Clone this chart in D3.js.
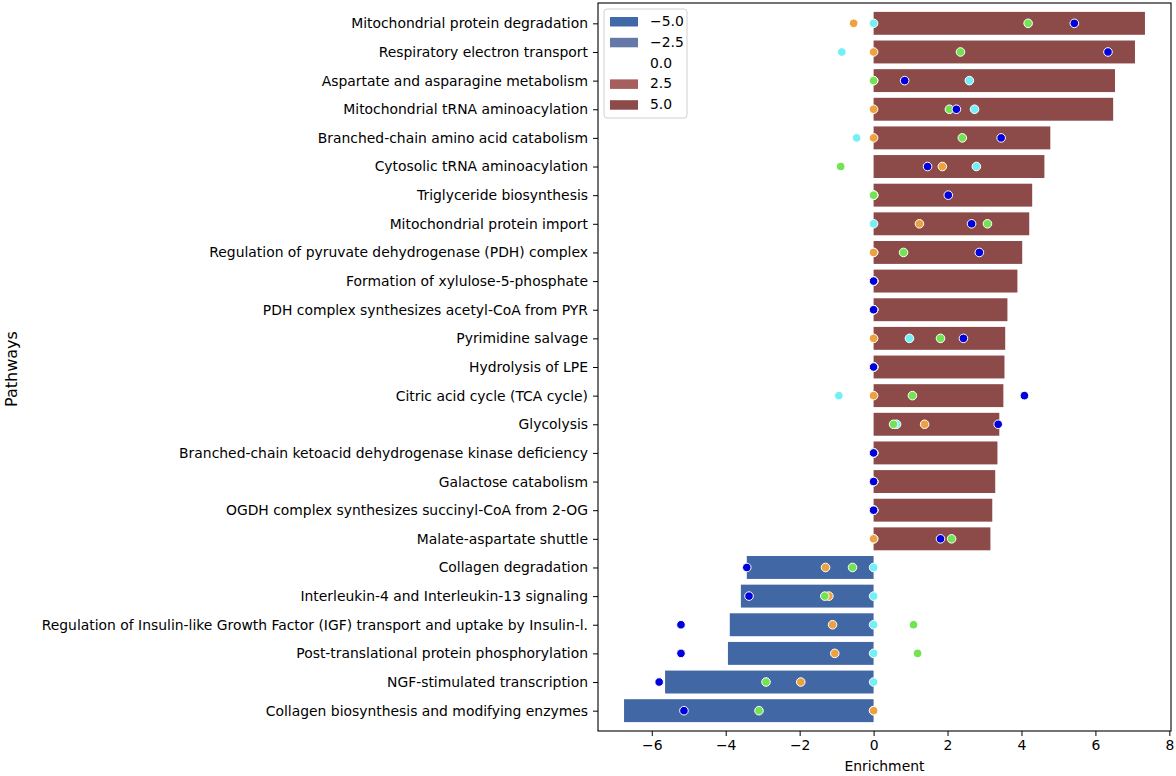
<!DOCTYPE html>
<html>
<head>
<meta charset="utf-8">
<script src="https://cdn.jsdelivr.net/npm/d3@7"></script>
<style>
  body { margin: 0; background: #fff; }
  svg { display: block; font-family: "DejaVu Sans", sans-serif; }
</style>
</head>
<body>
<svg id="chart" width="1176" height="776"></svg>
<script>
const pathways = [
  "Mitochondrial protein degradation",
  "Respiratory electron transport",
  "Aspartate and asparagine metabolism",
  "Mitochondrial tRNA aminoacylation",
  "Branched-chain amino acid catabolism",
  "Cytosolic tRNA aminoacylation",
  "Triglyceride biosynthesis",
  "Mitochondrial protein import",
  "Regulation of pyruvate dehydrogenase (PDH) complex",
  "Formation of xylulose-5-phosphate",
  "PDH complex synthesizes acetyl-CoA from PYR",
  "Pyrimidine salvage",
  "Hydrolysis of LPE",
  "Citric acid cycle (TCA cycle)",
  "Glycolysis",
  "Branched-chain ketoacid dehydrogenase kinase deficiency",
  "Galactose catabolism",
  "OGDH complex synthesizes succinyl-CoA from 2-OG",
  "Malate-aspartate shuttle",
  "Collagen degradation",
  "Interleukin-4 and Interleukin-13 signaling",
  "Regulation of Insulin-like Growth Factor (IGF) transport and uptake by Insulin-l.",
  "Post-translational protein phosphorylation",
  "NGF-stimulated transcription",
  "Collagen biosynthesis and modifying enzymes"
];
const enrichment = [7.34, 7.07, 6.53, 6.48, 4.78, 4.62, 4.29, 4.21, 4.02, 3.89, 3.62, 3.56, 3.54, 3.51, 3.40, 3.35, 3.29, 3.21, 3.16, -3.43, -3.59, -3.89, -3.94, -5.64, -6.75];
// dot series, drawing order: cyan, orange, green, blue
const cyanVals   = [0, -0.86, 2.59, 2.73, -0.46, 2.78, 0, 0, 0, 0, 0, 0.97, 0, -0.94, 0.62, 0, 0, 0, 0, 0, 0, 0, 0, 0, 0];
const orangeVals = [-0.54, 0, 0, 0, 0, 1.86, 0, 1.24, 0, 0, 0, 0, 0, 0, 1.38, 0, 0, 0, 0, -1.30, -1.21, -1.11, -1.05, -1.97, 0];
const greenVals  = [4.18, 2.35, 0, 2.05, 2.40, -0.89, 0, 3.08, 0.81, 0, 0, 1.81, 0, 1.05, 0.54, 0, 0, 0, 2.11, -0.57, -1.32, 1.08, 1.19, -2.91, -3.10];
const blueVals   = [5.43, 6.34, 0.84, 2.24, 3.45, 1.46, 2.02, 2.65, 2.86, 0, 0, 2.43, 0, 4.08, 3.37, 0, 0, 0, 1.81, -3.43, -3.37, -5.21, -5.21, -5.80, -5.13];
const legendLabels = ["\u22125.0", "\u22122.5", "0.0", "2.5", "5.0"];
const xTicks = [-6, -4, -2, 0, 2, 4, 6, 8];

const series = [
  { vals: cyanVals, color: "#72F0F6" },
  { vals: orangeVals, color: "#EEA23F" },
  { vals: greenVals, color: "#73E253" },
  { vals: blueVals, color: "#0000DC" }
];
const legendColors = ["#4168A8", "#6479A8", "none", "#A65E5E", "#8C4A48"];
const posColor = "#8C4A48", negColor = "#4267A5";

const svg = d3.select("#chart");
const L = 598, R = 1171, T = 3, B = 731;
const FS = "13.9px";

const allVals = enrichment.concat(...series.map(s => s.vals));
const mn = d3.min(allVals), mx = d3.max(allVals);
const pad = (mx - mn) * 0.05;
const x = d3.scaleLinear().domain([mn - pad, mx + pad]).range([L, R]);
const y = d3.scalePoint().domain(pathways).range([T, B]).padding(0.71);
const step = y.step();
const bh = step * 0.8;

// bars
svg.append("g").selectAll("rect").data(pathways).join("rect")
  .attr("x", (d, i) => Math.min(x(0), x(enrichment[i])))
  .attr("width", (d, i) => Math.abs(x(enrichment[i]) - x(0)))
  .attr("y", d => y(d) - bh / 2)
  .attr("height", bh)
  .attr("fill", (d, i) => enrichment[i] >= 0 ? posColor : negColor);

// dots
series.forEach(s => {
  svg.append("g").selectAll("circle").data(pathways).join("circle")
    .attr("cx", (d, i) => x(s.vals[i]))
    .attr("cy", d => y(d))
    .attr("r", 4.3)
    .attr("fill", s.color)
    .attr("stroke", "#fff")
    .attr("stroke-width", 1);
});

// frame
svg.append("rect").attr("x", L).attr("y", T).attr("width", R - L).attr("height", B - T)
  .attr("fill", "none").attr("stroke", "#000").attr("stroke-width", 1.1);

// x axis
const xAxis = svg.append("g").attr("transform", `translate(0,${B})`)
  .call(d3.axisBottom(x).tickValues(xTicks).tickSize(5).tickPadding(4).tickFormat(d3.format("d")));
xAxis.select(".domain").remove();
xAxis.selectAll("text").attr("font-size", FS).attr("fill", "#000").attr("font-family", "DejaVu Sans");
xAxis.selectAll("line").attr("stroke", "#000");

// y axis
const yAxis = svg.append("g").attr("transform", `translate(${L},0)`)
  .call(d3.axisLeft(y).tickSize(5).tickPadding(5));
yAxis.select(".domain").remove();
yAxis.selectAll("text").attr("font-size", FS).attr("fill", "#000").attr("font-family", "DejaVu Sans");
yAxis.selectAll("line").attr("stroke", "#000");

// axis labels
svg.append("text").attr("x", (L + R) / 2).attr("y", 771).attr("text-anchor", "middle")
  .attr("font-size", FS).text("Enrichment");
svg.append("text").attr("transform", `translate(17,${(T + B) / 2 + 2}) rotate(-90)`).attr("text-anchor", "middle")
  .attr("font-size", "16px").text("Pathways");

// legend
const lg = svg.append("g").attr("transform", "translate(604,9)");
lg.append("rect").attr("width", 83).attr("height", 109).attr("rx", 3)
  .attr("fill", "#fff").attr("fill-opacity", 0.8).attr("stroke", "#d0d0d0");
legendLabels.forEach((lab, i) => {
  const yy = 12 + i * 20.8;
  if (legendColors[i] !== "none") {
    lg.append("rect").attr("x", 6).attr("y", yy - 4).attr("width", 28).attr("height", 9.5).attr("fill", legendColors[i]);
  }
  lg.append("text").attr("x", 46).attr("y", yy + 5).attr("font-size", FS).text(lab);
});
</script>
</body>
</html>
